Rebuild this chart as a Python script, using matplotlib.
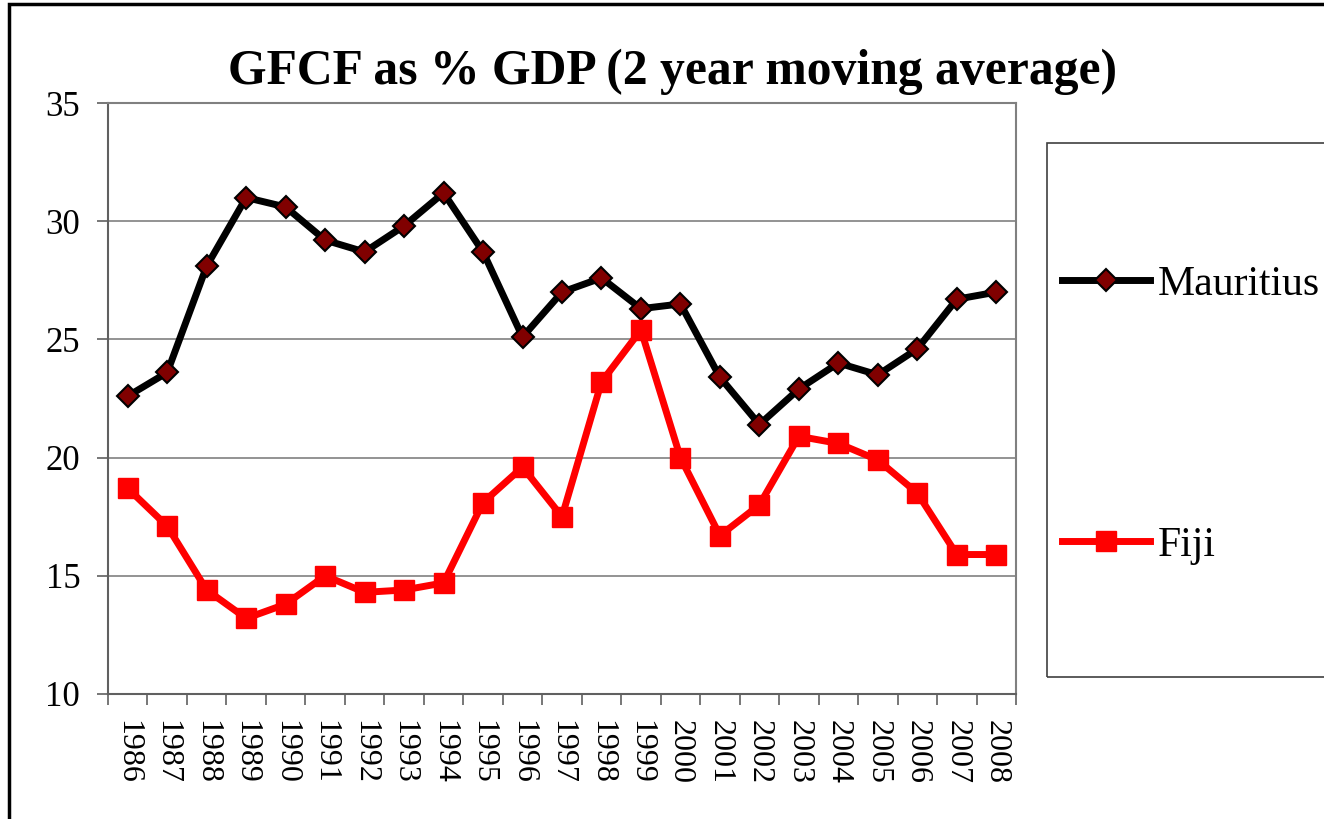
import matplotlib
matplotlib.use("Agg")
import matplotlib.pyplot as plt
from matplotlib.patches import Rectangle

years = [str(y) for y in range(1986, 2009)]
mauritius = [22.6, 23.6, 28.1, 31.0, 30.6, 29.2, 28.7, 29.8, 31.2, 28.7, 25.1, 27.0,
             27.6, 26.3, 26.5, 23.4, 21.4, 22.9, 24.0, 23.5, 24.6, 26.7, 27.0]
fiji = [18.7, 17.1, 14.4, 13.2, 13.8, 15.0, 14.3, 14.4, 14.7, 18.1, 19.6, 17.5,
        23.2, 25.4, 20.0, 16.7, 18.0, 20.9, 20.6, 19.9, 18.5, 15.9, 15.9]

plt.rcParams['font.family'] = ['Liberation Serif', 'DejaVu Serif']

W, H = 1324, 819
fig = plt.figure(figsize=(W / 100, H / 100), dpi=100)
ax = fig.add_axes([108 / W, 1 - 694 / H, (1016 - 108) / W, (694 - 103) / H])

x = list(range(len(years)))
ax.plot(x, mauritius, color='black', lw=5, marker='D', ms=11,
        mfc='#800000', mec='black', mew=1.5, label='Mauritius', zorder=3)
ax.plot(x, fiji, color='#ff0000', lw=5, marker='s', ms=14.5,
        mfc='#ff0000', mec='#ff0000', label='Fiji', zorder=4)

ax.set_xlim(-0.5, len(years) - 0.5)
ax.set_ylim(10, 35)
ax.set_yticks([10, 15, 20, 25, 30, 35])
ax.yaxis.grid(True, color='#808080', lw=1.2)
ax.set_axisbelow(True)

# category ticks at boundaries, labels in between
ax.set_xticks([i - 0.5 for i in range(len(years) + 1)])
ax.set_xticklabels([])
ax.set_xticks(x, minor=True)
ax.set_xticklabels(years, minor=True, rotation=270, fontsize=23)
ax.tick_params(axis='x', which='major', length=8, width=1.2, color='#606060')
ax.tick_params(axis='x', which='minor', length=0, pad=19)
ax.tick_params(axis='y', length=8, width=1.2, color='#606060', labelsize=25, pad=12)

for s in ax.spines.values():
    s.set_color('#808080')
    s.set_linewidth(1.5)
ax.spines['left'].set_color('#606060')
ax.spines['bottom'].set_color('#606060')

fig.text(672 / W, 1 - 84 / H, 'GFCF as % GDP (2 year moving average)',
         ha='center', va='baseline', fontsize=35.7, fontweight='bold')

# legend box (cut off at the right edge)
fig.patches.append(Rectangle((1047 / W, 1 - 677 / H), 0.3, (677 - 143) / H,
                             transform=fig.transFigure, fill=False,
                             ec='#404040', lw=1.2))
fig.legend(loc='center left', bbox_to_anchor=(1062 / W, 1 - 415 / H),
           frameon=False, fontsize=30, handlelength=2.1, handletextpad=0.2,
           labelspacing=5.35, borderpad=0, borderaxespad=0)

# outer chart border (left and top visible)
fig.patches.append(Rectangle((9 / W, -0.1), 1.2, 1.1 - 4 / H,
                             transform=fig.transFigure, fill=False,
                             ec='black', lw=2.5))

fig.savefig('out.png', dpi=100)
